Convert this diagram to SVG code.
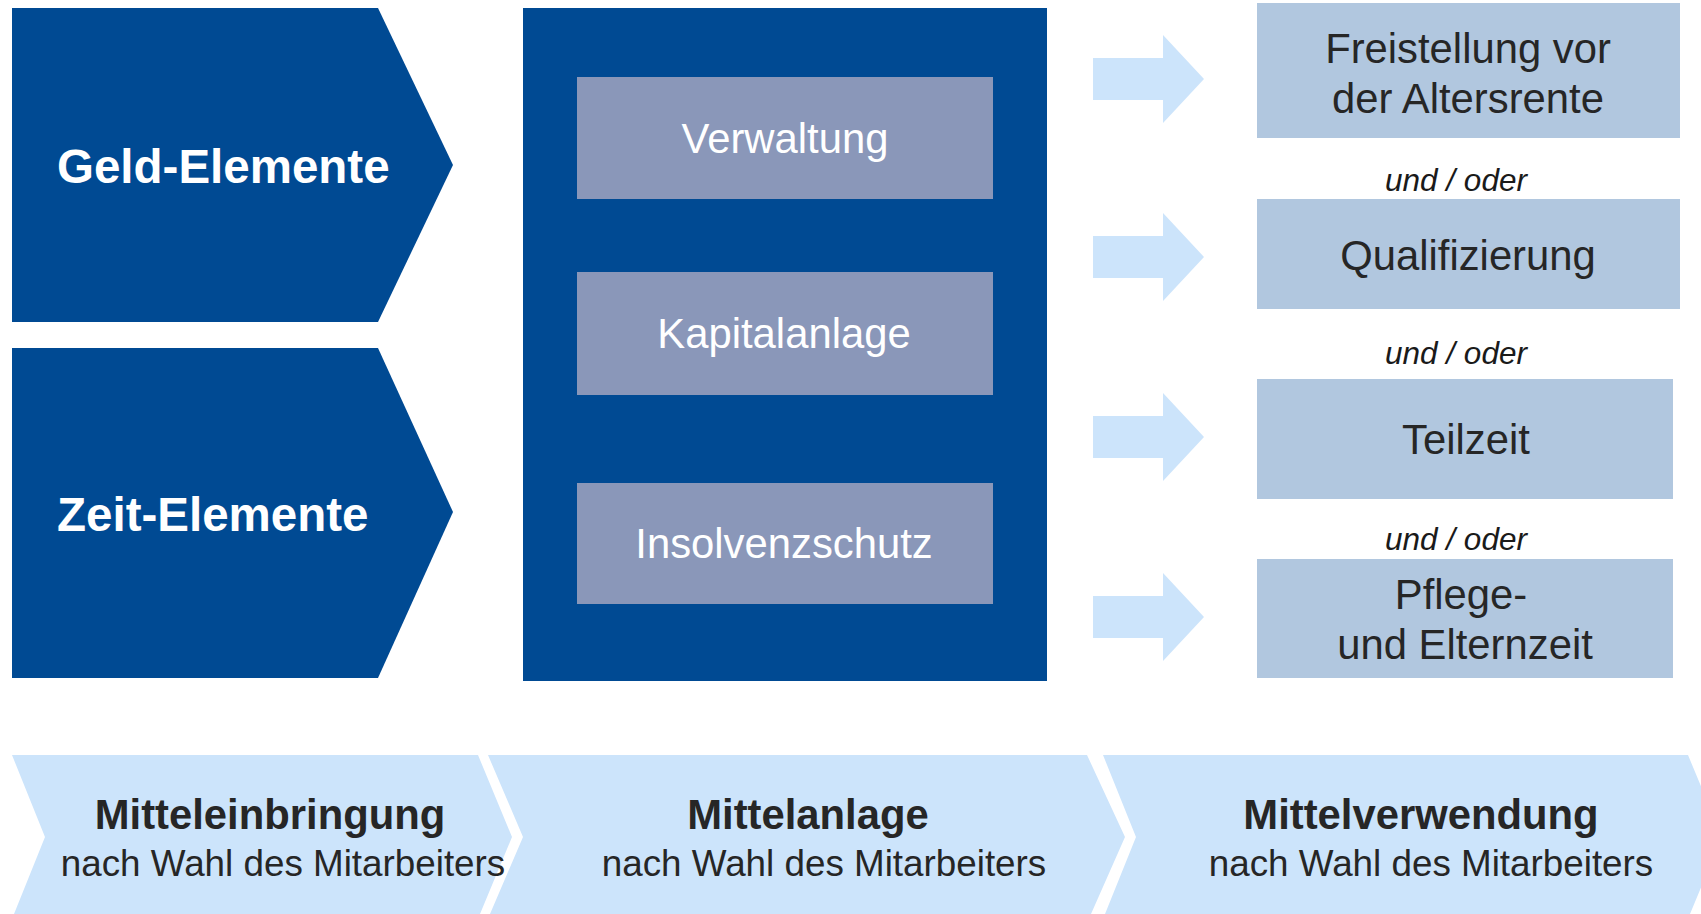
<svg xmlns="http://www.w3.org/2000/svg" width="1701" height="914" viewBox="0 0 1701 914">
<style>
.dark{fill:#004A93}
.inner{fill:#8A97B9}
.out{fill:#B1C7DF}
.arrow{fill:#CCE4FB}
.band{fill:#CCE4FB}
.t{font-family:"Liberation Sans",Arial,sans-serif}
.big{font-size:47.5px;font-weight:bold;fill:#FFFFFF}
.mid{font-size:41.8px;fill:#FFFFFF;text-anchor:middle}
.rt{font-size:41.8px;fill:#262626;text-anchor:middle}
.uo{font-size:31.5px;font-style:italic;fill:#1A1A1A;text-anchor:middle}
.bh{font-size:41.8px;font-weight:bold;fill:#262626;text-anchor:middle}
.bs{font-size:36.8px;fill:#262626;text-anchor:middle}
</style>
<rect width="1701" height="914" fill="#FFFFFF"/>
<g id="geld">
<polygon class="dark" points="12,8 378,8 453,165 378,322 12,322"/>
<text class="t big" x="57" y="183">Geld-Elemente</text>
</g>
<g id="zeit">
<polygon class="dark" points="12,348 378,348 453,512 378,678 12,678"/>
<text class="t big" x="57" y="531">Zeit-Elemente</text>
</g>
<g id="mittelanlage-box">
<rect class="dark" x="523" y="8" width="524" height="673"/>
</g>
<g id="verwaltung">
<rect class="inner" x="577" y="77" width="416" height="122"/>
<text class="t mid" x="785" y="153">Verwaltung</text>
</g>
<g id="kapitalanlage">
<rect class="inner" x="577" y="272" width="416" height="123"/>
<text class="t mid" x="784" y="348">Kapitalanlage</text>
</g>
<g id="insolvenzschutz">
<rect class="inner" x="577" y="483" width="416" height="121"/>
<text class="t mid" x="784" y="558">Insolvenzschutz</text>
</g>
<g id="connectors">
<polygon class="arrow" points="1093,58 1163,58 1163,35 1204,79 1163,123 1163,100 1093,100"/>
<polygon class="arrow" points="1093,236 1163,236 1163,213 1204,257 1163,301 1163,278 1093,278"/>
<polygon class="arrow" points="1093,416 1163,416 1163,393 1204,437 1163,481 1163,458 1093,458"/>
<polygon class="arrow" points="1093,596 1163,596 1163,573 1204,617 1163,661 1163,638 1093,638"/>
</g>
<g id="freistellung">
<rect class="out" x="1257" y="3" width="423" height="135"/>
<text class="t rt" x="1468" y="63">Freistellung vor</text>
<text class="t rt" x="1468" y="113">der Altersrente</text>
</g>
<g id="qualifizierung">
<rect class="out" x="1257" y="199" width="423" height="110"/>
<text class="t rt" x="1468" y="270">Qualifizierung</text>
</g>
<g id="teilzeit">
<rect class="out" x="1257" y="379" width="416" height="120"/>
<text class="t rt" x="1466" y="454">Teilzeit</text>
</g>
<g id="pflege">
<rect class="out" x="1257" y="559" width="416" height="119"/>
<text class="t rt" x="1461" y="609">Pflege-</text>
<text class="t rt" x="1465" y="659">und Elternzeit</text>
</g>
<g id="und-oder">
<text class="t uo" x="1456" y="191">und / oder</text>
<text class="t uo" x="1456" y="364">und / oder</text>
<text class="t uo" x="1456" y="550">und / oder</text>
</g>
<g id="mitteleinbringung">
<polygon class="band" points="12,755 478,755 512,837 480,914 14,914 45,837"/>
<text class="t bh" x="270" y="829">Mitteleinbringung</text>
<text class="t bs" x="283" y="876">nach Wahl des Mitarbeiters</text>
</g>
<g id="mittelanlage">
<polygon class="band" points="488,755 1087,755 1125,837 1091,914 490,914 523,837"/>
<text class="t bh" x="808" y="829">Mittelanlage</text>
<text class="t bs" x="824" y="876">nach Wahl des Mitarbeiters</text>
</g>
<g id="mittelverwendung">
<polygon class="band" points="1103,755 1688,755 1722,837 1690,914 1105,914 1136,837"/>
<text class="t bh" x="1421" y="829">Mittelverwendung</text>
<text class="t bs" x="1431" y="876">nach Wahl des Mitarbeiters</text>
</g>
</svg>
